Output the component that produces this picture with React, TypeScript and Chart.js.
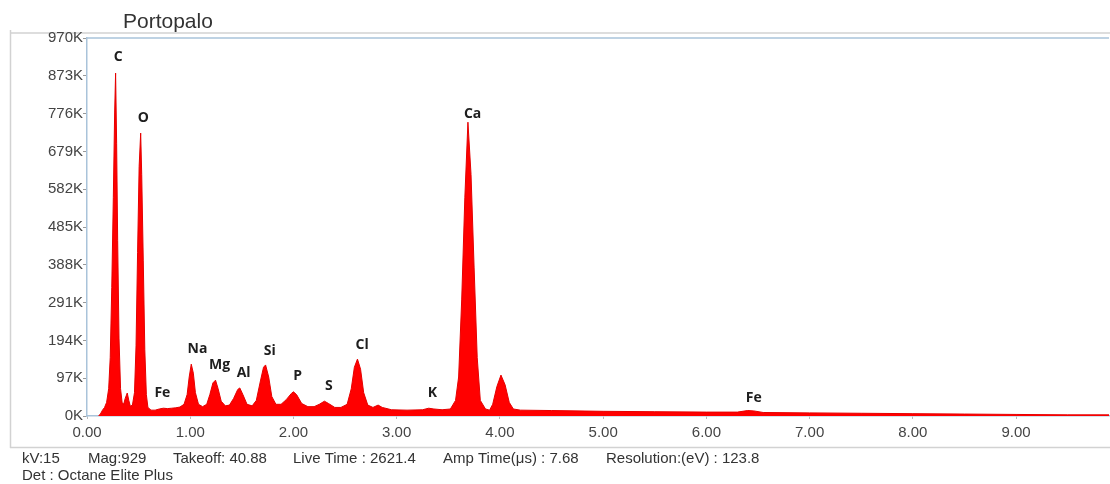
import React, { useEffect, useRef } from "react";
import { Chart, registerables } from "chart.js";

Chart.register(...registerables);

// Spectrum (energy in keV, counts)
const energy = [
  0.11, 0.13, 0.15, 0.17, 0.19, 0.21, 0.225, 0.24, 0.255, 0.268, 0.277, 0.287, 0.297, 0.31, 0.325, 0.34, 0.355, 0.37, 0.39, 0.405,
  0.42, 0.44, 0.46, 0.475, 0.49, 0.505, 0.52, 0.53, 0.545, 0.56, 0.575, 0.59, 0.62, 0.66, 0.7, 0.74, 0.78, 0.82, 0.86, 0.9,
  0.94, 0.97, 0.99, 1.01, 1.03, 1.05, 1.08, 1.12, 1.16, 1.19, 1.22, 1.245, 1.27, 1.3, 1.34, 1.38, 1.42, 1.46, 1.48, 1.51,
  1.55, 1.6, 1.64, 1.68, 1.71, 1.73, 1.76, 1.79, 1.83, 1.88, 1.93, 1.98, 2.0, 2.03, 2.08, 2.14, 2.2, 2.25, 2.3, 2.34,
  2.4, 2.46, 2.52, 2.56, 2.59, 2.62, 2.65, 2.68, 2.72, 2.77, 2.82, 2.86, 2.95, 3.1, 3.25, 3.31, 3.36, 3.44, 3.52, 3.57,
  3.6, 3.63, 3.66, 3.69, 3.72, 3.75, 3.78, 3.81, 3.86, 3.9, 3.93, 3.97, 4.01, 4.05, 4.09, 4.13, 4.2, 4.5, 5.0, 5.5,
  6.0, 6.3, 6.4, 6.46, 6.55, 7.0, 7.5, 8.0, 8.5, 9.0, 9.5, 9.95,
];
const counts = [
  0, 5000, 15000, 22000, 35000, 70000, 150000, 330000, 560000, 780000, 880000, 700000, 450000, 200000, 70000, 35000, 30000, 45000, 59000, 40000,
  25000, 28000, 60000, 180000, 420000, 640000, 726000, 620000, 400000, 170000, 55000, 22000, 15000, 15000, 18000, 20000, 19000, 20000, 21000, 23000,
  30000, 55000, 100000, 133000, 110000, 60000, 30000, 24000, 30000, 55000, 85000, 92000, 70000, 38000, 26000, 28000, 45000, 68000, 72000, 55000,
  30000, 26000, 40000, 90000, 125000, 131000, 100000, 50000, 30000, 30000, 42000, 58000, 62000, 55000, 32000, 24000, 24000, 30000, 38000, 32000,
  22000, 22000, 30000, 70000, 125000, 146000, 120000, 60000, 28000, 22000, 28000, 22000, 16000, 15000, 16000, 20000, 18000, 16000, 18000, 40000,
  100000, 300000, 560000, 754000, 620000, 380000, 150000, 40000, 18000, 15000, 30000, 75000, 105000, 80000, 35000, 18000, 15000, 14000, 12000, 11000,
  10000, 10000, 14000, 13000, 9000, 8000, 7000, 6000, 5000, 4000, 3000, 3000,
];

// Element labels (text anchor in data coordinates)
const peakNames = ["C", "O", "Fe", "Na", "Mg", "Al", "Si", "P", "S", "Cl", "K", "Ca", "Fe"];
const labelEnergy = [0.302, 0.545, 0.73, 1.07, 1.284, 1.517, 1.77, 2.04, 2.344, 2.665, 3.346, 3.735, 6.459];
const labelCounts = [921000, 765000, 59000, 172000, 131000, 110000, 167000, 103000, 77000, 182000, 59000, 775000, 46000];

const xTicks = [0, 1, 2, 3, 4, 5, 6, 7, 8, 9];
const yTicks = [0, 97000, 194000, 291000, 388000, 485000, 582000, 679000, 776000, 873000, 970000];

const title = "Portopalo";
const footerLine1 = ["kV:15", "Mag:929", "Takeoff: 40.88", "Live Time : 2621.4", "Amp Time(μs) : 7.68", "Resolution:(eV) : 123.8"];
const footerLine1X = [22, 88, 173, 293, 443, 606];
const footerLine2 = "Det : Octane Elite Plus";

const FONT = "'Liberation Sans', Arial, sans-serif";

export default function App() {
  const ref = useRef<HTMLCanvasElement | null>(null);

  useEffect(() => {
    if (!ref.current) return;
    const decor = {
      id: "decor",
      beforeDraw(chart: any) {
        const ctx = chart.ctx;
        const a = chart.chartArea;
        ctx.save();
        ctx.fillStyle = "#ffffff";
        ctx.fillRect(0, 0, chart.width, chart.height);
        ctx.strokeStyle = "#d2d2d2";
        ctx.lineWidth = 1.5;
        ctx.beginPath();
        ctx.moveTo(10, 33);
        ctx.lineTo(chart.width, 33);
        ctx.moveTo(10.5, 30);
        ctx.lineTo(10.5, 448);
        ctx.moveTo(10, 447.5);
        ctx.lineTo(chart.width, 447.5);
        ctx.stroke();
        // plot frame top
        ctx.strokeStyle = "#a9c3da";
        ctx.lineWidth = 1.5;
        ctx.beginPath();
        ctx.moveTo(a.left, a.top);
        ctx.lineTo(a.right, a.top);
        ctx.stroke();
        ctx.restore();
      },
      afterDraw(chart: any) {
        const ctx = chart.ctx;
        const xs = chart.scales.x;
        const ys = chart.scales.y;
        ctx.save();
        ctx.fillStyle = "#333";
        ctx.textBaseline = "middle";
        ctx.textAlign = "left";
        ctx.font = `21px ${FONT}`;
        ctx.fillText(title, 123, 22);
        ctx.font = `15px ${FONT}`;
        footerLine1.forEach((t, i) => ctx.fillText(t, footerLine1X[i], 459));
        ctx.fillText(footerLine2, 22, 476);
        ctx.fillStyle = "#1e1e1e";
        ctx.textAlign = "center";
        ctx.font = `bold 14px 'Open Sans', ${FONT}`;
        peakNames.forEach((n, i) => {
          ctx.fillText(n, xs.getPixelForValue(labelEnergy[i]), ys.getPixelForValue(labelCounts[i]));
        });
        ctx.restore();
      },
    };

    const chart = new Chart(ref.current, {
      type: "line",
      data: {
        datasets: [
          {
            data: energy.map((e, i) => ({ x: e, y: counts[i] })),
            borderColor: "#e60000",
            backgroundColor: "#ff0000",
            borderWidth: 1,
            fill: "origin",
            pointRadius: 0,
            tension: 0,
          },
        ],
      },
      options: {
        responsive: false,
        animation: false,
        layout: { padding: { top: 38, right: 1, left: 0, bottom: 0 } },
        plugins: { legend: { display: false }, tooltip: { enabled: false } },
        scales: {
          x: {
            type: "linear",
            min: 0,
            max: 9.9,
            afterBuildTicks: (s: any) => {
              s.ticks = xTicks.map((v) => ({ value: v }));
            },
            afterFit: (s: any) => {
              s.height = 68;
            },
            ticks: {
              callback: (v: any) => Number(v).toFixed(2),
              color: "#444",
              font: { size: 15, family: FONT },
              padding: 5,
              maxRotation: 0,
              autoSkip: false,
            },
            grid: { drawOnChartArea: false, drawTicks: true, tickLength: 3, color: "#bbb" },
            border: { color: "#a9c3da", width: 1.5 },
          },
          y: {
            min: 0,
            max: 970000,
            afterBuildTicks: (s: any) => {
              s.ticks = yTicks.map((v) => ({ value: v }));
            },
            afterFit: (s: any) => {
              s.width = 87;
            },
            ticks: {
              callback: (v: any) => `${Math.round(Number(v) / 1000)}K`,
              color: "#444",
              font: { size: 15, family: FONT },
              padding: 0,
              autoSkip: false,
            },
            grid: { drawOnChartArea: false, drawTicks: true, tickLength: 4, color: "#999" },
            border: { color: "#a9c3da", width: 1.5 },
          },
        },
      },
      plugins: [decor],
    } as any);
    return () => chart.destroy();
  }, []);

  return (
    <div style={{ position: "fixed", left: 0, top: 0, width: 1110, height: 484, background: "#fff" }}>
      <canvas ref={ref} width={1110} height={484} style={{ display: "block" }} />
    </div>
  );
}
